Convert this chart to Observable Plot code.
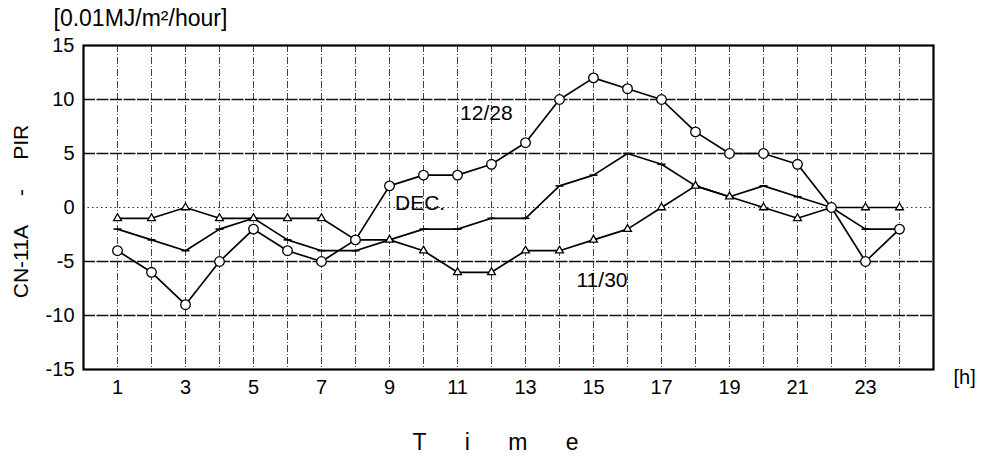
<!DOCTYPE html>
<html>
<head>
<meta charset="utf-8">
<script src="https://cdn.jsdelivr.net/npm/d3@7"></script>
<script src="https://cdn.jsdelivr.net/npm/@observablehq/plot@0.6"></script>
<style>
  html, body { margin: 0; padding: 0; background: #fff; }
  #chart { width: 981px; height: 457px; }
</style>
</head>
<body>
<div id="chart"></div>
<script>
// Hour of day
const hours = [1, 2, 3, 4, 5, 6, 7, 8, 9, 10, 11, 12, 13, 14, 15, 16, 17, 18, 19, 20, 21, 22, 23, 24];
// CN-11A minus PIR, in 0.01 MJ/m²/hour
const day1228 = [-4, -6, -9, -5, -2, -4, -5, -3, 2, 3, 3, 4, 6, 10, 12, 11, 10, 7, 5, 5, 4, 0, -5, -2];
const day1130 = [-1, -1, 0, -1, -1, -1, -1, -3, -3, -4, -6, -6, -4, -4, -3, -2, 0, 2, 1, 0, -1, 0, 0, 0];
const decMean = [-2, -3, -4, -2, -1, -3, -4, -4, -3, -2, -2, -1, -1, 2, 3, 5, 4, 2, 1, 2, 1, 0, -2, -2];

const xTicks = [1, 3, 5, 7, 9, 11, 13, 15, 17, 19, 21, 23];
const yTicks = [-15, -10, -5, 0, 5, 10, 15];
const gridSolid = [-10, -5, 5, 10];
const gridDotted = [0];

// Series name labels placed on the data scale
const seriesLabels = [
  {text: "12/28", hour: 11.85, value: 8.7, anchor: "middle"},
  {text: "DEC.", hour: 9.9, value: 0.35, anchor: "start"},
  {text: "11/30", hour: 15.25, value: -6.75, anchor: "middle"}
];

const rows = (vals) => hours.map((h, i) => ({hour: h, value: vals[i]}));
const s1228 = rows(day1228);
const s1130 = rows(day1130);
const sDec = rows(decMean);

// short horizontal dash used as the marker of the monthly series
const dash = {
  draw(context, size) {
    const r = Math.sqrt(size / Math.PI);
    context.moveTo(-r, 0);
    context.lineTo(r, 0);
  }
};

const font = "'Liberation Sans', Arial, Helvetica, sans-serif";
const sp = (n) => "\u00a0".repeat(n);

const chart = Plot.plot({
  width: 981,
  height: 457,
  marginLeft: 83,
  marginRight: 48,
  marginTop: 45,
  marginBottom: 88,
  style: {fontFamily: font, fontSize: "20px", background: "#fff", color: "#000"},
  x: {domain: [0, 25]},
  y: {domain: [-15, 15]},
  marks: [
    Plot.ruleX(hours, {stroke: "#222", strokeWidth: 1, strokeDasharray: "7,2,1,2", strokeOpacity: 0.85}),
    Plot.ruleY(gridSolid, {stroke: "#111", strokeWidth: 1.3, strokeDasharray: "12,1.5"}),
    Plot.ruleY(gridDotted, {stroke: "#333", strokeWidth: 1, strokeDasharray: "1.5,3"}),
    Plot.axisX({ticks: xTicks, tickSize: 0, tickPadding: 10, label: null, fontSize: 20, tickFormat: (d) => String(d)}),
    Plot.axisY({ticks: yTicks, tickSize: 0, tickPadding: 9, label: null, fontSize: 20, tickFormat: (d) => String(d)}),
    Plot.line(s1130, {x: "hour", y: "value", stroke: "#000", strokeWidth: 1.7}),
    Plot.line(sDec, {x: "hour", y: "value", stroke: "#000", strokeWidth: 1.7}),
    Plot.line(s1228, {x: "hour", y: "value", stroke: "#000", strokeWidth: 1.7}),
    Plot.dot(sDec, {x: "hour", y: "value", symbol: dash, r: 4, stroke: "#000", strokeWidth: 1.6}),
    Plot.dot(s1130, {x: "hour", y: "value", symbol: "triangle", r: 2.9, fill: "#fff", stroke: "#000", strokeWidth: 1.3}),
    Plot.dot(s1228, {x: "hour", y: "value", r: 4.8, fill: "#fff", stroke: "#000", strokeWidth: 1.3}),
    Plot.frame({stroke: "#000", strokeWidth: 2.2}),
    Plot.text(seriesLabels, {x: "hour", y: "value", text: "text", textAnchor: "anchor", fontSize: 21, fill: "#000"}),
    // axis titles
    Plot.text(["[0.01MJ/m²/hour]"], {frameAnchor: "top-left", textAnchor: "start", lineAnchor: "middle", dx: -30, dy: -27, fontSize: 23}),
    Plot.text([`CN-11A${sp(5)}-${sp(5)}PIR`], {frameAnchor: "left", textAnchor: "middle", lineAnchor: "middle", rotate: -90, dx: -62, dy: 4, fontSize: 21}),
    Plot.text(["[h]"], {frameAnchor: "bottom-right", textAnchor: "start", lineAnchor: "middle", dx: 20, dy: 8, fontSize: 20}),
    Plot.text([`T${sp(6)}i${sp(6)}m${sp(6)}e`], {frameAnchor: "bottom", textAnchor: "middle", lineAnchor: "middle", dx: -13, dy: 73, fontSize: 23})
  ]
});

document.getElementById("chart").appendChild(chart);
</script>
</body>
</html>
